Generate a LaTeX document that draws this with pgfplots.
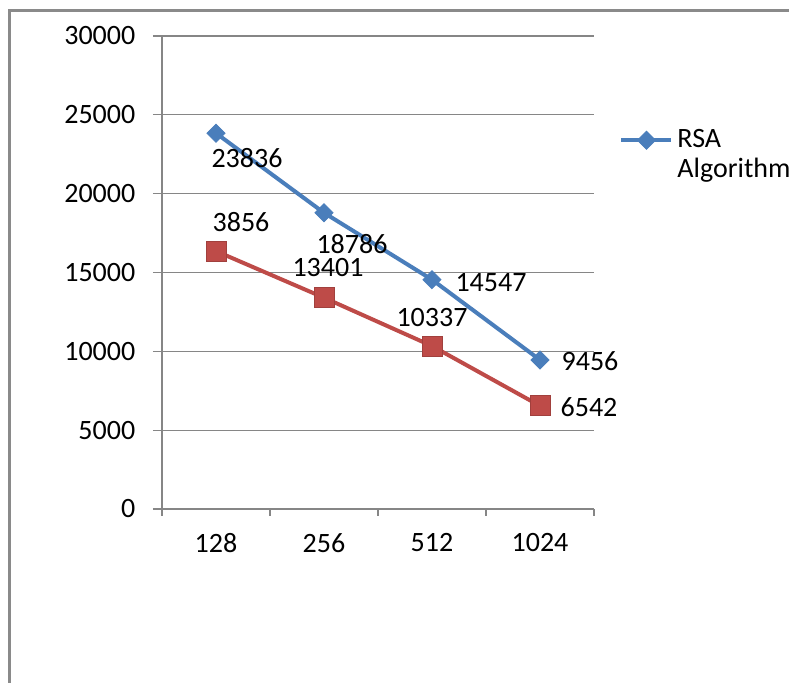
\documentclass[border=0pt]{standalone}
\usepackage{pgfplots}
\pgfplotsset{compat=1.18}
\usepackage{fontspec}
\setmainfont{Carlito}
\definecolor{rsablue}{HTML}{4A7EBB}
\definecolor{rsared}{HTML}{BE4B48}
\definecolor{axgray}{HTML}{868686}
\definecolor{framegray}{HTML}{8A8A8A}
\begin{document}
\fontsize{14}{16}\selectfont
\begin{tikzpicture}
\useasboundingbox (0pt,0pt) rectangle (394.5pt,-341.5pt);
\clip (0pt,0pt) rectangle (394.5pt,-341.5pt);
\draw[framegray, line width=1.5pt] (4.5pt,-5.5pt) rectangle (440pt,-400pt);
\begin{axis}[
  at={(81pt,-254.5pt)}, anchor=south west,
  scale only axis, width=216pt, height=236.5pt,
  xmin=-0.5, xmax=3.5, ymin=0, ymax=30000,
  axis lines*=left,
  axis line style={axgray, line width=0.6pt},
  xtick={0,1,2,3}, xticklabels={128,256,512,1024},
  major x tick style={draw=none},
  minor xtick={-0.5,0.5,1.5,2.5,3.5},
  minor x tick style={axgray, line width=0.6pt},
  minor tick length=3.5pt,
  ytick={0,5000,...,30000},
  y tick style={axgray, line width=0.6pt},
  major tick length=4.5pt,
  tick align=outside,
  ymajorgrids, grid style={axgray, line width=0.6pt},
  yticklabel style={xshift=-4pt},
  xticklabel style={yshift=-3pt},
  scaled y ticks=false,
  /pgf/number format/assume math mode=true,
  yticklabel={\pgfmathprintnumber[fixed,1000 sep={}]{\tick}},
  tick label style={font=\fontsize{14}{16}\selectfont, black},
  clip=false,
  legend style={at={(1.058,0.748)}, anchor=west, draw=none, fill=none,
    cells={align=left}, font=\fontsize{14}{15}\selectfont,
    row sep=0pt, inner sep=0pt},
  legend image code/.code={
    \draw[mark repeat=2,mark phase=2,#1] plot coordinates {(0pt,7.5pt) (12.5pt,7.5pt) (25pt,7.5pt)};},
]
\addplot[rsablue, line width=2pt, mark=square*, mark size=3.2pt,
  mark options={rotate=45, fill=rsablue, draw=rsablue, line width=0.4pt}]
  coordinates {(0,23836) (1,18786) (2,14547) (3,9456)};
\addlegendentry{RSA\\Algorithm}
\addplot[rsared, line width=2pt, mark=square*, mark size=5pt,
  mark options={fill=rsared, draw=rsared!85!black, line width=0.4pt}, forget plot]
  coordinates {(0,16356) (1,13401) (2,10337) (3,6542)};
\node[xshift=15.5pt, yshift=-12.5pt] at (axis cs:0,23836) {23836};
\node[xshift=14pt, yshift=-15.5pt] at (axis cs:1,18786) {18786};
\node[xshift=29.5pt, yshift=-1.5pt] at (axis cs:2,14547) {14547};
\node[xshift=25pt, yshift=-0.5pt] at (axis cs:3,9456) {9456};
\node[xshift=12.5pt, yshift=14.5pt] at (axis cs:0,16356) {3856};
\node[xshift=2pt, yshift=15pt] at (axis cs:1,13401) {13401};
\node[xshift=0pt, yshift=14.5pt] at (axis cs:2,10337) {10337};
\node[xshift=24.5pt, yshift=-0.5pt] at (axis cs:3,6542) {6542};
\end{axis}
\end{tikzpicture}
\end{document}
